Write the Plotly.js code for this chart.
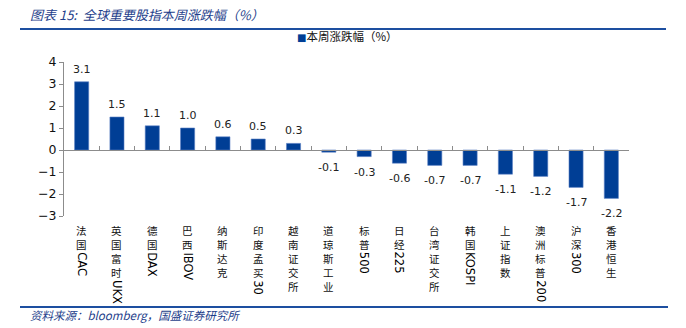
<!DOCTYPE html>
<html>
<head>
<meta charset="utf-8">
<script src="https://cdn.plot.ly/plotly-3.0.1.min.js"></script>
<style>
html,body{margin:0;padding:0;background:#fff;}
#chart{width:686px;height:328px;}
</style>
</head>
<body>
<div id="chart"></div>
<script>
const categories = ["法国CAC","英国富时UKX","德国DAX","巴西IBOV","纳斯达克","印度孟买30","越南证交所","道琼斯工业","标普500","日经225","台湾证交所","韩国KOSPI","上证指数","澳洲标普200","沪深300","香港恒生"];
const values = [3.1,1.5,1.1,1.0,0.6,0.5,0.3,-0.1,-0.3,-0.6,-0.7,-0.7,-1.1,-1.2,-1.7,-2.2];
const valueLabels = ["3.1","1.5","1.1","1.0","0.6","0.5","0.3","-0.1","-0.3","-0.6","-0.7","-0.7","-1.1","-1.2","-1.7","-2.2"];
const seriesName = "本周涨跌幅（%）";
const yTicks = [-3,-2,-1,0,1,2,3,4];
const titleText = "图表 15:  全球重要股指本周涨跌幅（%）";
const sourceText = "资料来源：bloomberg，国盛证券研究所";

const yMin = -3, yMax = 4;
const barColor = "#003E95";
const navy = "#1F3F8C";
const cjk = "'Noto Sans CJK SC', sans-serif";
const lat = "'DejaVu Sans', Verdana, sans-serif";

const annotations = [];
const STEP = 14;
const TOP = -6;
categories.forEach((c, k) => {
  const m = c.match(/^([^\x00-\x7F]+)(.*)$/);
  const han = m ? Array.from(m[1]) : [];
  const rest = m ? m[2] : c;
  han.forEach((ch, i) => {
    annotations.push({
      x: c, xref: "x", y: 0, yref: "paper", yanchor: "top", xanchor: "center",
      yshift: TOP - i * STEP, showarrow: false, borderpad: 0,
      text: ch,
      font: {family: cjk, size: 10.5, color: "#111"}
    });
  });
  if (rest) {
    annotations.push({
      x: c, xref: "x", y: 0, yref: "paper", yanchor: "top", xanchor: "center",
      yshift: TOP - han.length * STEP - 1, showarrow: false, borderpad: 0,
      textangle: 90,
      text: rest,
      font: {family: lat, size: 11.5, color: "#000"}
    });
  }
  // value label
  const v = values[k];
  annotations.push({
    x: c, xref: "x", y: v, yref: "y",
    yanchor: v >= 0 ? "bottom" : "top", xanchor: "center",
    yshift: v >= 0 ? 5 : -8, showarrow: false, borderpad: 0,
    text: valueLabels[k],
    font: {family: lat, size: 11, color: "#222"}
  });
});

annotations.push({
  xref: "paper", yref: "paper", x: (295 - 64) / 565, y: 1, yshift: 26,
  xanchor: "left", yanchor: "middle", showarrow: false,
  text: '<span style="color:' + barColor + ';font-family:DejaVu Sans;font-size:10px">■</span>' + seriesName,
  font: {family: cjk, size: 11.5, color: "#111"}
});

annotations.push({
  xref: "paper", yref: "paper", x: (28 - 64) / 565, y: 0, yshift: -99,
  xanchor: "left", yanchor: "middle", showarrow: false,
  text: "<i>" + sourceText + "</i>",
  font: {family: cjk, size: 11.5, color: navy}
});

const data = [{
  type: "bar",
  x: categories,
  y: values,
  name: seriesName,
  marker: {color: barColor, line: {color: "#5a80c4", width: 0.6}},
  width: 0.4,
  hoverinfo: "x+y"
}];

const layout = {
  width: 686, height: 328,
  margin: {l: 64, r: 57, t: 62, b: 112, pad: 0},
  paper_bgcolor: "#fff", plot_bgcolor: "#fff",
  showlegend: false,
  title: {
    text: "<i>" + titleText + "</i>",
    font: {family: cjk, size: 13, color: navy},
    x: 30 / 686, xanchor: "left", xref: "container",
    y: 1 - 15 / 328, yanchor: "middle", yref: "container"
  },
  xaxis: {
    type: "category",
    anchor: "free",
    position: (0 - yMin) / (yMax - yMin),
    showline: true, linecolor: "#8c8c8c", linewidth: 1,
    ticks: "inside", ticklen: 4, tickcolor: "#8c8c8c",
    tickson: "boundaries",
    showticklabels: false, showgrid: false, zeroline: false,
    fixedrange: true
  },
  yaxis: {
    range: [yMin, yMax],
    tickvals: yTicks,
    showline: true, linecolor: "#8c8c8c", linewidth: 1,
    ticks: "outside", ticklen: 4, tickcolor: "#8c8c8c",
    showgrid: false, zeroline: false,
    tickfont: {family: lat, size: 12.5, color: "#111"},
    fixedrange: true
  },
  shapes: [
    {type: "line", xref: "paper", yref: "paper",
     x0: (20 - 64) / 565, x1: (666 - 64) / 565, y0: (216 - 29) / 154, y1: (216 - 29) / 154,
     line: {color: "#1D4FA0", width: 2}},
    {type: "line", xref: "paper", yref: "paper",
     x0: (20 - 64) / 565, x1: (668 - 64) / 565, y0: (216 - 307) / 154, y1: (216 - 307) / 154,
     line: {color: "#1D4FA0", width: 2}}
  ],
  annotations: annotations
};

Plotly.newPlot("chart", data, layout, {displayModeBar: false, staticPlot: true});
</script>
</body>
</html>
